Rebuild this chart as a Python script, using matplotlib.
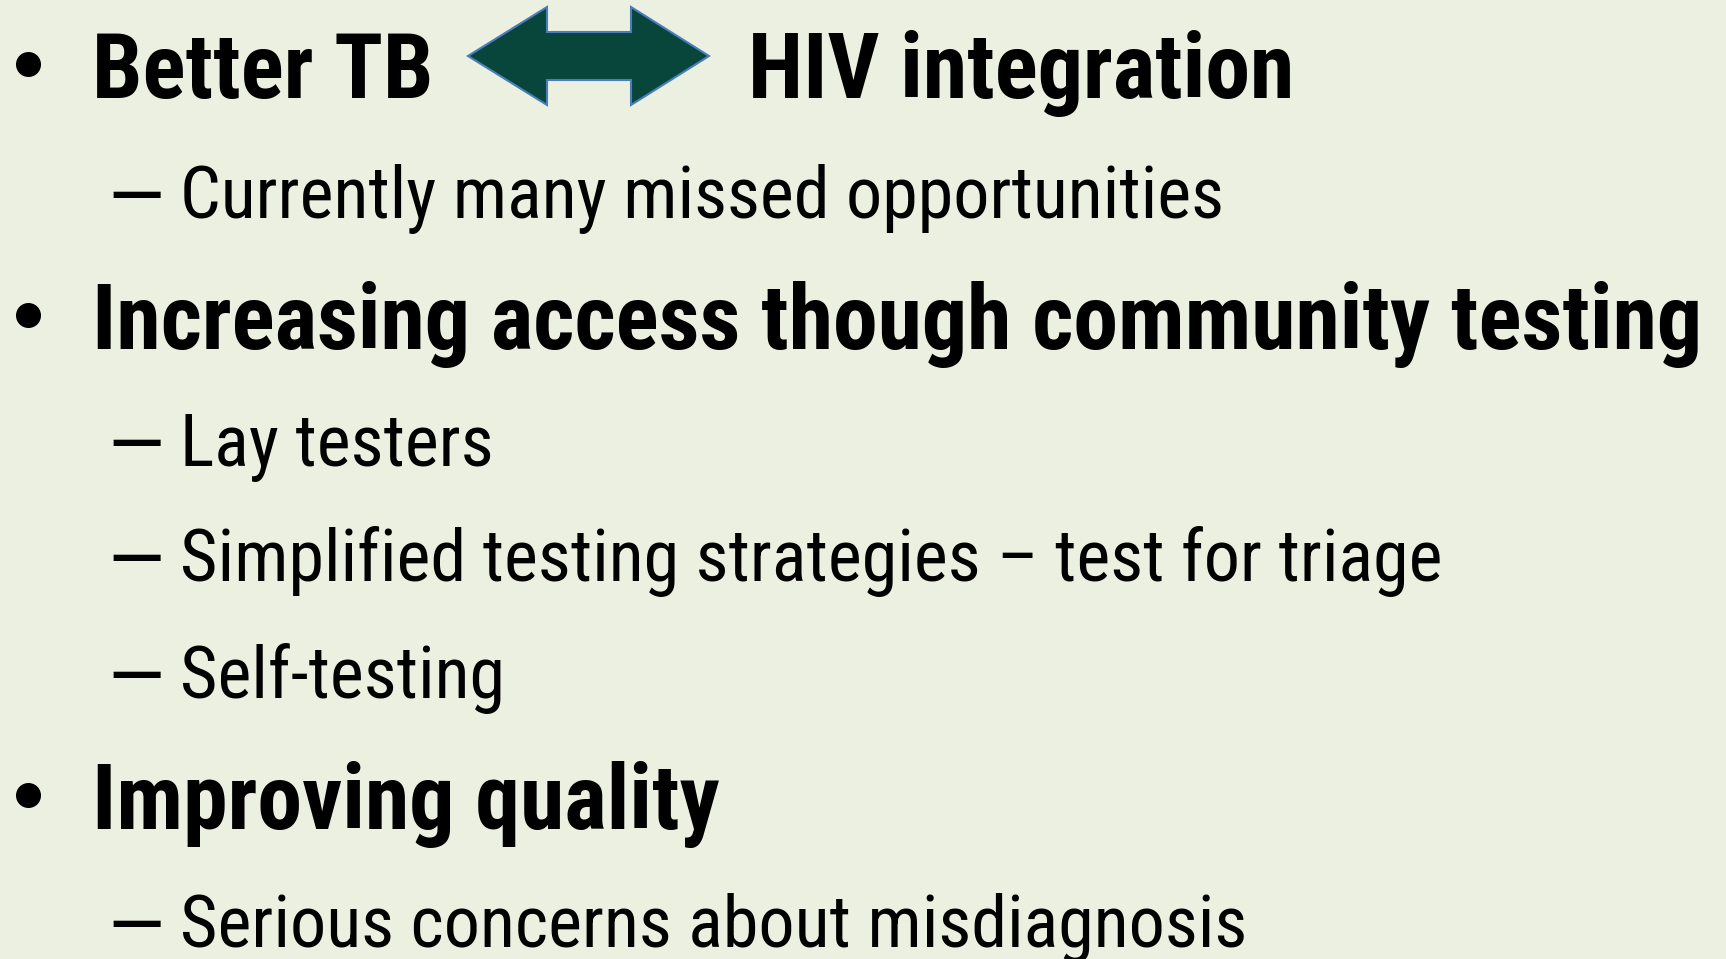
import matplotlib
import numpy as np

matplotlib.use("Agg")
import matplotlib.pyplot as plt
from matplotlib.font_manager import FontProperties
from matplotlib.patches import Polygon
from matplotlib.textpath import TextPath

W, H, DPI = 1726, 959, 100
BG = "#ECF0E0"
FAMILY = ["Roboto Condensed", "DejaVu Sans"]

# slide content
bullets = ["Better TB", "Increasing access though community testing", "Improving quality"]
bullet_extra = ["HIV integration", None, None]
subs = [
    ["Currently many missed opportunities"],
    ["Lay testers", "Simplified testing strategies \u2013 test for triage", "Self-testing"],
    ["Serious concerns about misdiagnosis"],
]
bullet_baselines = [98, 349, 829]
sub_baselines = [[218], [466, 581, 698], [947]]

# right edges of the lines in the reference slide (px), used to size the fonts
bold_ends = [428, 1713, 719]
sub_ends = [[1244], [497, 1418, 503], [1266]]

fig = plt.figure(figsize=(W / DPI, H / DPI), dpi=DPI, facecolor=BG)
ax = fig.add_axes([0, 0, 1, 1])
ax.set_xlim(0, W)
ax.set_ylim(H, 0)
ax.axis("off")
fig.canvas.draw()
renderer = fig.canvas.get_renderer()


def text_width(txt, weight, size):
    t = ax.text(0, 0, txt, fontsize=size, family=FAMILY, weight=weight)
    w = t.get_window_extent(renderer).width
    t.remove()
    return w


def fit_size(texts, weight, targets, base=60):
    widths = sum(text_width(t, weight, base) for t in texts)
    return base * sum(targets) / widths


big = fit_size(bullets, "bold", [e - 93 for e in bold_ends])
flat_subs = [s for grp in subs for s in grp]
flat_ends = [e for grp in sub_ends for e in grp]
small = fit_size(flat_subs, "normal", [e - 182 for e in flat_ends])

# dash glyph: size it to 47 px wide and sit its centre 23 px above the baseline
dash = "\u2014"
dash_ink = TextPath((0, 0), dash, size=1, prop=FontProperties(family=FAMILY)).get_extents()
dash_size = 47 / (dash_ink.width * DPI / 72)
dash_mid = (dash_ink.y0 + dash_ink.y1) / 2 * dash_size * DPI / 72
dash_x0 = dash_ink.x0 * dash_size * DPI / 72

for i, txt in enumerate(bullets):
    y = bullet_baselines[i]
    ax.plot(28, y - 34, "o", ms=17, color="black")
    ax.text(92, y, txt, fontsize=big, family=FAMILY, weight="bold", va="baseline")
    if bullet_extra[i]:
        ax.text(748, y, bullet_extra[i], fontsize=big, family=FAMILY, weight="bold", va="baseline")
    for s, sy in zip(subs[i], sub_baselines[i]):
        ax.text(113 - dash_x0, sy - 23 + dash_mid, dash, fontsize=dash_size, family=FAMILY,
                va="baseline")
        ax.text(180, sy, s, fontsize=small, family=FAMILY, va="baseline")

# double arrow between "TB" and "HIV"
tip_l, head_l, head_r, tip_r = 468, 547, 631, 709
mid, half_head, half_shaft = 56, 49, 24
xs = np.array([tip_l, head_l, head_l, head_r, head_r, tip_r, head_r, head_r, head_l, head_l])
ys = mid + np.array([0, -half_head, -half_shaft, -half_shaft, -half_head, 0,
                     half_head, half_shaft, half_shaft, half_head])
ax.add_patch(Polygon(np.column_stack([xs, ys]), closed=True, facecolor="#08453A",
                     edgecolor="#4A7EBB", linewidth=1.5))

fig.savefig("out.png", dpi=DPI, facecolor=BG)
